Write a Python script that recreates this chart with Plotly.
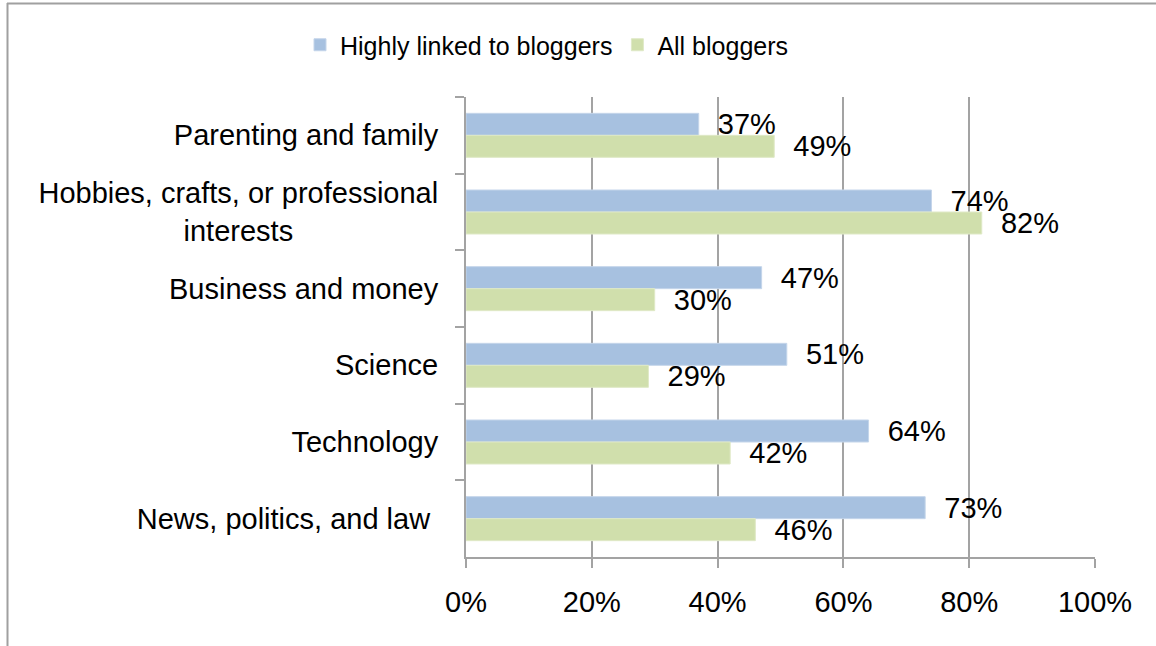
import plotly.graph_objects as go

categories = [
    "Parenting and family",
    "Hobbies, crafts, or professional<br>interests" + "\u00a0" * 18,
    "Business and money",
    "Science",
    "Technology",
    "News, politics, and law\u00a0",
]
highly_linked = [37, 74, 47, 51, 64, 73]
all_bloggers = [49, 82, 30, 29, 42, 46]
x_ticks = [0, 20, 40, 60, 80, 100]
x_tick_labels = ["0%", "20%", "40%", "60%", "80%", "100%"]

BLUE = "#A7C1E0"
GREEN = "#D0DFAC"
GRID = "#A3A3A3"
FONT = "Liberation Sans, Arial, sans-serif"
FS = 29

W, H = 1156, 646
L, R, T, B = 466, 61, 97, 89

fig = go.Figure()
fig.add_trace(go.Bar(
    y=categories, x=highly_linked, orientation="h", name="Highly linked to bloggers",
    marker=dict(color=BLUE, line=dict(color="#C4D5EA", width=1)),
    text=[f"{v}%" for v in highly_linked],
    texttemplate="\u00a0\u00a0%{text}", textposition="outside", constraintext="none",
    cliponaxis=False, textfont=dict(family=FONT, size=FS, color="black"),
))
fig.add_trace(go.Bar(
    y=categories, x=all_bloggers, orientation="h", name="All bloggers",
    marker=dict(color=GREEN, line=dict(color="#DFE9C6", width=1)),
    text=[f"{v}%" for v in all_bloggers],
    texttemplate="\u00a0\u00a0%{text}", textposition="outside", constraintext="none",
    cliponaxis=False, textfont=dict(family=FONT, size=FS, color="black"),
))

pw = W - L - R
ph = H - T - B
def px_x(p):
    return (p - L) / pw
def px_y(p):
    return (H - B - p) / ph

fig.update_layout(
    width=W, height=H,
    margin=dict(l=L, r=R, t=T, b=B, autoexpand=False),
    paper_bgcolor="white", plot_bgcolor="white",
    font=dict(family=FONT, size=FS, color="black"),
    barmode="group", bargap=0.426, bargroupgap=0,
    showlegend=True,
    legend=dict(orientation="h", x=px_x(547), xanchor="center", y=px_y(45), yanchor="middle",
                font=dict(family=FONT, size=25, color="black"), bgcolor="rgba(0,0,0,0)"),
    xaxis=dict(range=[0, 100], tickvals=x_ticks, ticktext=x_tick_labels, showgrid=True,
               gridcolor=GRID, gridwidth=2, showline=True, linecolor=GRID, linewidth=2,
               ticks="outside", ticklen=9, tickwidth=2, tickcolor=GRID, zeroline=False,
               ticklabelstandoff=9,
               tickfont=dict(family=FONT, size=FS, color="black")),
    yaxis=dict(autorange="reversed", showgrid=False, showline=True, linecolor=GRID, linewidth=2,
               ticks="outside", ticklen=9, tickwidth=2, tickcolor=GRID, tickson="boundaries",
               ticklabelstandoff=20,
               tickfont=dict(family=FONT, size=FS, color="black")),
    shapes=[
        dict(type="line", xref="paper", yref="paper", x0=px_x(7), x1=px_x(W + 10), y0=px_y(3.5), y1=px_y(3.5),
             line=dict(color="#A0A0A0", width=2)),
        dict(type="line", xref="paper", yref="paper", x0=px_x(7.5), x1=px_x(7.5), y0=px_y(3), y1=px_y(H + 10),
             line=dict(color="#A0A0A0", width=2)),
    ],
)

fig.write_html("out.html")
